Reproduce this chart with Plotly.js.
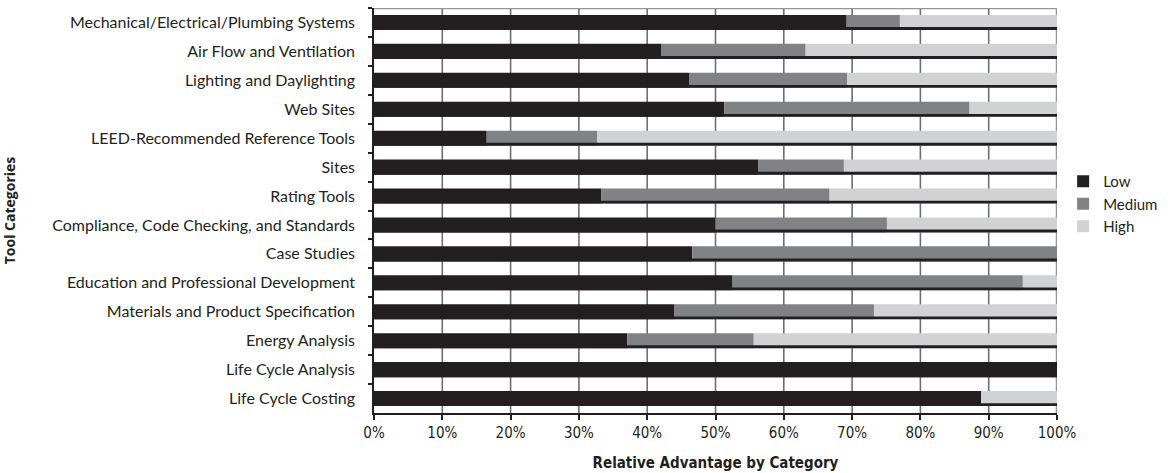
<!DOCTYPE html>
<html>
<head>
<meta charset="utf-8">
<script src="https://cdn.plot.ly/plotly-3.0.1.min.js"></script>
<style>html,body{margin:0;padding:0;background:#fff;}#chart{width:1169px;height:473px;}</style>
</head>
<body>
<div id="chart"></div>
<script>
const categories = [
  "Mechanical/Electrical/Plumbing Systems",
  "Air Flow and Ventilation",
  "Lighting and Daylighting",
  "Web Sites",
  "LEED-Recommended Reference Tools",
  "Sites",
  "Rating Tools",
  "Compliance, Code Checking, and Standards",
  "Case Studies",
  "Education and Professional Development",
  "Materials and Product Specification",
  "Energy Analysis",
  "Life Cycle Analysis",
  "Life Cycle Costing"
];
const low    = [69.2, 42.1, 46.2, 51.3, 16.5, 56.3, 33.3, 50.0, 46.6, 52.5, 44.0, 37.1, 100.0, 88.9];
const medium = [ 7.8, 21.1, 23.1, 35.9, 16.2, 12.5, 33.4, 25.1, 53.4, 42.5, 29.2, 18.5,   0.0,  0.0];
const high   = [23.0, 36.8, 30.7, 12.8, 67.3, 31.2, 33.3, 24.9,  0.0,  5.0, 26.8, 44.4,   0.0, 11.1];
const seriesNames = ["Low", "Medium", "High"];
const xTickVals = [0,10,20,30,40,50,60,70,80,90,100];
const xTickText = ["0%","10%","20%","30%","40%","50%","60%","70%","80%","90%","100%"];

const colors = ["#231f20", "#818285", "#d1d2d4"];
const baseMed = low.slice();
const baseHigh = low.map((v,i)=>v+medium[i]);
const total = low.map((v,i)=>v+medium[i]+high[i]);

// gridlines (vertical, at the x tick values) on a hidden 0..1 axis beneath the bars
const gx = [], gy = [];
xTickVals.filter(v => v > 0 && v < 100).forEach(v => { gx.push(v, v, null); gy.push(0, 1, null); });
const gridTrace = {type:"scatter", mode:"lines", x:gx, y:gy, xaxis:"x", yaxis:"y",
  line:{color:"#6d6e71", width:1.6}, showlegend:false, hoverinfo:"skip", cliponaxis:false};
const xMax = xTickVals[xTickVals.length-1];
const borderTrace = {type:"scatter", mode:"lines", x:[0, xMax, xMax], y:[1, 1, 0], xaxis:"x", yaxis:"y",
  line:{color:"#939598", width:2.5}, showlegend:false, hoverinfo:"skip", cliponaxis:false};

const W = 0.52;
function barTrace(name, vals, base, color){
  return {type:"bar", orientation:"h", name:name, y:categories, x:vals, base:base,
    xaxis:"x", yaxis:"y2",
    width:W, marker:{color:color, line:{width:0}}, hoverinfo:"x+y+name"};
}
const traces = [
  gridTrace, borderTrace,
  barTrace(seriesNames[0], low, low.map(()=>0), colors[0]),
  barTrace(seriesNames[1], medium, baseMed, colors[1]),
  barTrace(seriesNames[2], high, baseHigh, colors[2]),
  {type:"bar", orientation:"h", name:"edge", y:categories, x:total, base:low.map(()=>0),
   xaxis:"x", yaxis:"y2",
   width:0.1, offset:W/2-0.1, marker:{color:"#231f20", line:{width:0}}, showlegend:false, hoverinfo:"skip"}
];

const layout = {
  width:1169, height:473,
  margin:{l:374, r:112, t:8, b:60, autoexpand:false},
  paper_bgcolor:"#ffffff", plot_bgcolor:"#ffffff",
  barmode:"overlay",
  font:{family:"Lato, 'Open Sans', sans-serif", color:"#231f20", size:15},
  xaxis:{
    range:[0,100], tickmode:"array", tickvals:xTickVals, ticktext:xTickText,
    showgrid:false,
    showline:true, linecolor:"#231f20", linewidth:1.5,
    ticks:"outside", ticklen:5, tickcolor:"#231f20", tickwidth:1.5,
    tickfont:{family:"'Liberation Sans Narrow', 'DejaVu Sans Condensed', sans-serif", size:15, color:"#231f20"},
    zeroline:false, fixedrange:true,
    title:{text:"<b>Relative Advantage by Category</b>", standoff:17,
      font:{family:"'Liberation Sans Narrow', 'DejaVu Sans Condensed', sans-serif", size:15, color:"#231f20"}}
  },
  yaxis:{range:[0,1], visible:false, showgrid:false, zeroline:false, fixedrange:true},
  yaxis2:{
    type:"category", autorange:"reversed", overlaying:"y", side:"left",
    showgrid:false, showline:true, linecolor:"#231f20", linewidth:1.5,
    ticks:"outside", ticklen:4, tickcolor:"#231f20", tickwidth:1.5, tickson:"boundaries",
    ticklabelstandoff:14,
    tickfont:{family:"Lato, 'Open Sans', sans-serif", size:16, color:"#231f20"},
    zeroline:false, fixedrange:true,
    title:{text:"<b>Tool Categories</b>", standoff:33,
      font:{family:"'Open Sans', sans-serif", size:14, color:"#231f20"}}
  },
  legend:{x:1.009, xanchor:"left", y:0.516, yanchor:"middle",
    font:{family:"Lato, 'Open Sans', sans-serif", size:15, color:"#231f20"},
    itemclick:false, itemdoubleclick:false, tracegroupgap:0},
  showlegend:true
};

Plotly.newPlot("chart", traces, layout, {displayModeBar:false});
</script>
</body>
</html>
